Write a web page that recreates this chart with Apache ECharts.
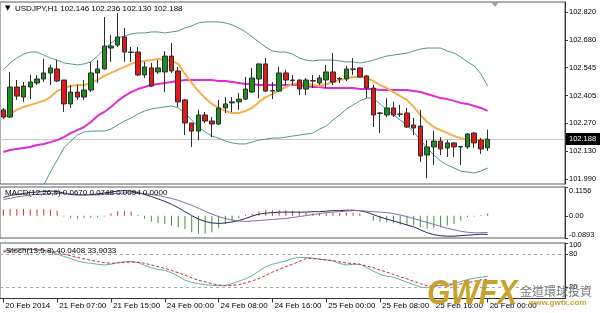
<!DOCTYPE html>
<html><head><meta charset="utf-8">
<script src="https://cdn.jsdelivr.net/npm/echarts@6/dist/echarts.min.js"></script>
<style>html,body{margin:0;padding:0;background:#fff}#c{width:600px;height:313px}</style>
</head><body><div id="c"></div>
<script>
const categories = ['20 Feb 23:00',
'21 Feb 00:00','21 Feb 01:00','21 Feb 02:00','21 Feb 03:00','21 Feb 04:00','21 Feb 05:00','21 Feb 06:00','21 Feb 07:00','21 Feb 08:00','21 Feb 09:00','21 Feb 10:00','21 Feb 11:00','21 Feb 12:00','21 Feb 13:00','21 Feb 14:00','21 Feb 15:00','21 Feb 16:00','21 Feb 17:00','21 Feb 18:00','21 Feb 19:00','21 Feb 20:00','21 Feb 21:00','21 Feb 22:00',
'24 Feb 00:00','24 Feb 01:00','24 Feb 02:00','24 Feb 03:00','24 Feb 04:00','24 Feb 05:00','24 Feb 06:00','24 Feb 07:00','24 Feb 08:00','24 Feb 09:00','24 Feb 10:00','24 Feb 11:00','24 Feb 12:00','24 Feb 13:00','24 Feb 14:00','24 Feb 15:00','24 Feb 16:00','24 Feb 17:00','24 Feb 18:00','24 Feb 19:00','24 Feb 20:00','24 Feb 21:00','24 Feb 22:00','24 Feb 23:00',
'25 Feb 00:00','25 Feb 01:00','25 Feb 02:00','25 Feb 03:00','25 Feb 04:00','25 Feb 05:00','25 Feb 06:00','25 Feb 07:00','25 Feb 08:00','25 Feb 09:00','25 Feb 10:00','25 Feb 11:00','25 Feb 12:00','25 Feb 13:00','25 Feb 14:00','25 Feb 15:00','25 Feb 16:00','25 Feb 17:00','25 Feb 18:00','25 Feb 19:00','25 Feb 20:00','25 Feb 21:00','25 Feb 22:00','25 Feb 23:00',
'26 Feb 00:00'];
// empty slots to the right (chart shift)
const futureSlots = ['26 Feb 01:00','26 Feb 02:00','26 Feb 03:00','26 Feb 04:00','26 Feb 05:00','26 Feb 06:00','26 Feb 07:00','26 Feb 08:00','26 Feb 09:00','26 Feb 10:00','26 Feb 11:00'];
const tickIndex = [0,8,16,24,32,40,48,56,64,72];
const tickLabels = ['20 Feb 2014','21 Feb 07:00','21 Feb 15:00','24 Feb 00:00','24 Feb 08:00','24 Feb 16:00','25 Feb 00:00','25 Feb 08:00','25 Feb 16:00','26 Feb 00:00'];

const opens = [102.334,102.299,102.448,102.398,102.448,102.468,102.488,102.518,102.538,102.483,
102.364,102.423,102.398,102.433,102.518,102.538,102.642,102.657,102.697,102.622,
102.622,102.508,102.543,102.523,102.523,102.602,102.528,102.384,102.269,102.229,
102.309,102.279,102.264,102.344,102.369,102.374,102.388,102.423,102.488,102.563,
102.428,102.428,102.518,102.483,102.483,102.438,102.478,102.468,102.483,102.523,
102.488,102.488,102.538,102.543,102.503,102.443,102.319,102.309,102.344,102.314,
102.319,102.259,102.254,102.110,102.150,102.179,102.145,102.170,102.150,102.150,
102.219,102.184,102.146];
const closes = [102.299,102.448,102.403,102.453,102.473,102.488,102.518,102.543,102.478,102.364,
102.423,102.398,102.433,102.518,102.538,102.652,102.652,102.697,102.622,102.620,
102.508,102.548,102.453,102.543,102.602,102.528,102.374,102.269,102.229,102.309,
102.279,102.264,102.344,102.364,102.374,102.388,102.438,102.493,102.563,102.428,
102.430,102.518,102.483,102.480,102.438,102.483,102.480,102.493,102.523,102.473,
102.490,102.538,102.536,102.498,102.443,102.309,102.317,102.344,102.309,102.312,
102.249,102.244,102.105,102.150,102.179,102.140,102.170,102.150,102.152,102.214,
102.170,102.140,102.188];
const highs = [102.344,102.523,102.483,102.473,102.508,102.508,102.587,102.558,102.582,102.483,
102.458,102.458,102.483,102.573,102.582,102.796,102.707,102.816,102.742,102.647,
102.647,102.573,102.568,102.582,102.627,102.667,102.548,102.388,102.269,102.334,
102.324,102.299,102.384,102.398,102.398,102.418,102.498,102.543,102.565,102.592,
102.473,102.548,102.533,102.508,102.485,102.493,102.508,102.508,102.558,102.617,
102.498,102.553,102.592,102.545,102.508,102.458,102.324,102.393,102.374,102.359,
102.344,102.294,102.334,102.184,102.229,102.199,102.184,102.174,102.155,102.219,
102.224,102.194,102.236];
const lows = [102.289,102.294,102.384,102.374,102.388,102.458,102.473,102.458,102.473,102.324,
102.344,102.384,102.384,102.423,102.468,102.533,102.573,102.647,102.573,102.573,
102.503,102.493,102.448,102.513,102.423,102.518,102.349,102.209,102.150,102.184,
102.269,102.199,102.259,102.319,102.324,102.334,102.384,102.418,102.393,102.423,
102.388,102.423,102.458,102.458,102.408,102.408,102.443,102.458,102.443,102.458,
102.468,102.478,102.508,102.496,102.393,102.249,102.219,102.299,102.299,102.299,
102.244,102.209,102.075,101.995,102.060,102.110,102.100,102.100,102.060,102.140,
102.145,102.115,102.130];

const bbUpper = [102.533,102.568,102.592,102.612,102.622,102.622,102.607,102.592,102.582,102.568,
102.563,102.558,102.563,102.573,102.602,102.637,102.667,102.692,102.702,102.712,
102.717,102.717,102.722,102.722,102.717,102.722,102.727,102.742,102.752,102.767,
102.772,102.772,102.772,102.767,102.757,102.742,102.722,102.697,102.672,102.647,
102.627,102.622,102.622,102.612,102.592,102.582,102.578,102.582,102.582,102.582,
102.578,102.573,102.573,102.568,102.573,102.582,102.592,102.602,102.607,102.612,
102.617,102.627,102.637,102.642,102.642,102.642,102.627,102.617,102.597,102.573,
102.553,102.513,102.453];
const bbLower = [101.662,101.712,101.757,101.801,101.846,101.896,101.961,102.025,102.085,102.145,
102.179,102.209,102.224,102.229,102.229,102.229,102.239,102.259,102.279,102.294,
102.314,102.329,102.339,102.344,102.349,102.354,102.344,102.319,102.284,102.249,
102.224,102.204,102.194,102.179,102.170,102.165,102.165,102.174,102.184,102.189,
102.194,102.194,102.199,102.204,102.209,102.214,102.219,102.239,102.254,102.284,
102.309,102.339,102.359,102.379,102.393,102.393,102.364,102.334,102.309,102.284,
102.259,102.224,102.184,102.145,102.110,102.080,102.060,102.045,102.030,102.025,
102.020,102.030,102.045];
const maFast = [102.294,102.314,102.334,102.349,102.359,102.369,102.379,102.398,102.428,102.443,
102.453,102.458,102.458,102.468,102.483,102.503,102.518,102.533,102.548,102.563,
102.573,102.578,102.582,102.587,102.582,102.578,102.563,102.513,102.468,102.428,
102.393,102.364,102.344,102.329,102.319,102.319,102.329,102.344,102.374,102.398,
102.413,102.433,102.448,102.463,102.468,102.463,102.458,102.453,102.463,102.473,
102.483,102.493,102.498,102.498,102.493,102.478,102.458,102.443,102.423,102.403,
102.384,102.349,102.309,102.274,102.249,102.234,102.219,102.204,102.194,102.184,
102.184,102.184,102.189];
const maSlow = [102.125,102.135,102.140,102.145,102.150,102.160,102.165,102.174,102.184,102.199,
102.219,102.234,102.249,102.274,102.304,102.324,102.349,102.379,102.403,102.423,
102.438,102.448,102.458,102.463,102.468,102.473,102.478,102.483,102.483,102.483,
102.483,102.483,102.478,102.478,102.473,102.468,102.463,102.463,102.458,102.458,
102.458,102.458,102.458,102.458,102.458,102.453,102.448,102.448,102.443,102.443,
102.443,102.443,102.443,102.438,102.438,102.438,102.433,102.433,102.433,102.433,
102.433,102.428,102.423,102.413,102.403,102.393,102.388,102.379,102.369,102.364,
102.354,102.344,102.329];

const macdHist = [0.025,0.027,0.026,0.027,0.026,0.025,0.026,0.024,0.020,-0.003,
-0.010,-0.012,-0.010,-0.008,-0.006,-0.003,0.010,0.018,0.020,0.016,
0.003,-0.012,-0.024,-0.029,-0.033,-0.039,-0.046,-0.053,-0.066,-0.072,
-0.072,-0.066,-0.050,-0.033,-0.020,-0.010,0.004,0.008,0.018,0.022,
0.022,0.022,0.022,0.020,0.018,0.012,0.010,0.010,0.012,0.012,
0.010,0.012,0.012,0.008,0.000,-0.020,-0.024,-0.026,-0.029,-0.036,
-0.039,-0.039,-0.046,-0.052,-0.050,-0.046,-0.039,-0.033,-0.020,-0.005,
-0.003,0.003,0.0094];
const macdLine1 = [0.0737,0.0816,0.0855,0.0894,0.0934,0.0953,0.0973,0.0993,0.0973,0.0914,
0.0855,0.0835,0.0835,0.0855,0.0875,0.0914,0.0953,0.0993,0.1013,0.0993,
0.0934,0.0855,0.0776,0.0678,0.0579,0.0461,0.0323,0.0165,0.0008,-0.0130,
-0.0229,-0.0288,-0.0307,-0.0288,-0.0248,-0.0189,-0.0110,-0.0012,0.0067,0.0106,
0.0126,0.0146,0.0146,0.0146,0.0146,0.0146,0.0165,0.0165,0.0185,0.0205,
0.0205,0.0225,0.0225,0.0205,0.0146,0.0047,-0.0051,-0.0130,-0.0209,-0.0288,
-0.0366,-0.0445,-0.0563,-0.0682,-0.0760,-0.0800,-0.0820,-0.0820,-0.0800,-0.0780,
-0.0760,-0.0741,-0.0748];
const macdLine2 = [0.0658,0.0697,0.0756,0.0796,0.0835,0.0855,0.0875,0.0894,0.0894,0.0894,
0.0875,0.0855,0.0835,0.0835,0.0835,0.0855,0.0875,0.0894,0.0914,0.0914,
0.0914,0.0894,0.0855,0.0816,0.0756,0.0697,0.0619,0.0520,0.0422,0.0303,
0.0185,0.0067,-0.0032,-0.0110,-0.0169,-0.0209,-0.0229,-0.0209,-0.0189,-0.0169,
-0.0150,-0.0130,-0.0110,-0.0071,-0.0032,0.0008,0.0047,0.0087,0.0126,0.0146,
0.0165,0.0185,0.0205,0.0205,0.0185,0.0165,0.0146,0.0126,0.0087,0.0028,
-0.0032,-0.0110,-0.0189,-0.0268,-0.0347,-0.0426,-0.0504,-0.0563,-0.0623,-0.0662,
-0.0682,-0.0682,-0.0670];

const stochK = [86,88,90,90,89,87,86,85,80,75.8,
72,67.7,64.8,63.5,61.7,60.4,61.7,64.8,65.9,66.6,
64.8,59.8,55.6,52.5,50.6,46.4,40.2,32.8,29.2,26.8,
25,23.7,23.1,23.7,26.8,31,35.4,41.5,49.4,57.4,
61.7,64.8,67.7,72,74,74,72.7,70.8,69.5,67.7,
62.9,60.4,61.7,61.7,55.6,49.4,43.3,40.2,38.4,34.1,
29.2,25,20.7,19.4,21.8,23.7,25.5,27.3,30.5,34.1,
36.5,38.4,40.0408];
const stochD = [84,85,87,88,88,88,87,86,83,80,
76.9,73.9,71.4,69,66.6,64.8,63.5,64,65.3,65.9,
65.3,63.5,60.4,57.4,54.3,50.6,46.4,42,37.2,32.8,
29.9,26.8,24.4,23.1,23.7,25,28.1,31.7,36,41.5,
47.5,52.5,57.4,61.7,67,72,72,70.8,69.5,68.4,
65.9,64,62.9,61.7,58.5,55.6,51.2,47.5,43.3,39.1,
35.4,31,26.8,23.1,22.6,23.7,23.7,25,26.2,28.6,
31,33.6,33.9033];

const priceTicks = [101.990,102.130,102.270,102.405,102.545,102.680,102.820];
const priceRange = [101.9656,102.871];
const lastPrice = 102.188;
const macdTicks = [-0.0893,0,0.1156];
const stochTicks = [20,80,100];
const stochLevels = [20,80];

const titleMain = 'USDJPY,H1 102.146 102.236 102.130 102.188';
const titleMacd = 'MACD(12,26,9) 0.0670 0.0748 0.0094 0.0000';
const titleStoch = 'Stoch(13,5,8) 40.0408 33.9033';

const FONT = 'Liberation Sans';
const xCats = categories.concat(futureSlots);
const candleData = opens.map((o,i)=>[o, closes[i], lows[i], highs[i]]);

const chart = echarts.init(document.getElementById('c'), null, {renderer:'canvas'});

function hiddenX(gi){
  return {type:'category', gridIndex:gi, data:xCats, boundaryGap:true,
    axisLine:{show:false}, axisTick:{show:false}, axisLabel:{show:false}, splitLine:{show:false}};
}
const tickFn = (idx)=> tickIndex.indexOf(idx) >= 0;
const gridBase = {left:0, right:35, show:true, borderColor:'#5a5a5a', borderWidth:1, backgroundColor:'#fff'};
const lblBase = {fontSize:7.5, color:'#000', fontFamily:FONT, showMinLabel:true, showMaxLabel:true, hideOverlap:false};

chart.setOption({
  animation:false,
  backgroundColor:'#fff',
  textStyle:{fontFamily:FONT},
  title:[
    {text:'▼', left:5, top:4, padding:0, textStyle:{fontSize:7, color:'#000', fontWeight:'normal', fontFamily:'DejaVu Sans', lineHeight:9}},
    {text:titleMain, left:15, top:4, padding:0, textStyle:{fontSize:8, color:'#000', fontWeight:'normal', fontFamily:FONT, lineHeight:10}},
    {text:titleMacd, left:5, top:188, padding:0, textStyle:{fontSize:8, color:'#000', fontWeight:'normal', fontFamily:FONT, lineHeight:10}},
    {text:titleStoch, left:6, top:246, padding:0, textStyle:{fontSize:8, color:'#000', fontWeight:'normal', fontFamily:FONT, lineHeight:10}}
  ],
  grid:[
    Object.assign({top:2, height:182}, gridBase),
    Object.assign({top:187, height:51}, gridBase),
    Object.assign({top:243, height:55.5}, gridBase)
  ],
  xAxis:[
    hiddenX(0), hiddenX(1),
    {type:'category', gridIndex:2, data:xCats, boundaryGap:true,
      axisLine:{show:true, lineStyle:{color:'#333'}},
      axisTick:{show:true, alignWithLabel:true, interval:tickFn, length:4, lineStyle:{color:'#333'}},
      axisLabel:{show:true, interval:tickFn, align:'left', margin:3, padding:[0,0,0,2],
        fontSize:8, color:'#000', fontFamily:FONT,
        formatter:(v, idx)=>{ const k = tickIndex.indexOf(idx); return k>=0 ? tickLabels[k] : ''; }},
      splitLine:{show:false}}
  ],
  yAxis:[
    {type:'value', gridIndex:0, position:'right', min:priceRange[0], max:priceRange[1],
      axisLine:{show:true, lineStyle:{color:'#333'}},
      axisTick:{show:true, length:3, customValues:priceTicks, lineStyle:{color:'#333'}},
      axisLabel:Object.assign({customValues:priceTicks, margin:4, formatter:v=>Number(v).toFixed(3)}, lblBase),
      splitLine:{show:false}},
    {type:'value', gridIndex:1, position:'right', min:macdTicks[0], max:macdTicks[2],
      axisLine:{show:true, lineStyle:{color:'#333'}},
      axisTick:{show:true, length:3, customValues:macdTicks, lineStyle:{color:'#333'}},
      axisLabel:Object.assign({customValues:macdTicks, margin:4,
        formatter:v=> Number(v) > 0.1 ? '{t|0.1156}' : (Number(v) < -0.08 ? '{b|-0.0893}' : '0.00'),
        rich:{t:{padding:[8,0,0,0], fontSize:7.5, color:'#000', fontFamily:FONT},
              b:{padding:[0,0,6,0], fontSize:7.5, color:'#000', fontFamily:FONT}}}, lblBase),
      splitLine:{show:false}},
    {type:'value', gridIndex:2, position:'right', min:0, max:100,
      axisLine:{show:true, lineStyle:{color:'#333'}},
      axisTick:{show:true, length:3, customValues:stochTicks, lineStyle:{color:'#333'}},
      axisLabel:Object.assign({customValues:stochTicks, margin:4,
        formatter:v=> Number(v) >= 100 ? '{t|100}' : String(v),
        rich:{t:{padding:[3,0,0,0], fontSize:7.5, color:'#000', fontFamily:FONT}}}, lblBase),
      splitLine:{show:false}},
  ],
  series:[
    {type:'line', name:'BB upper', xAxisIndex:0, yAxisIndex:0, data:bbUpper, symbol:'none', z:2,
      lineStyle:{color:'#4f9595', width:1}},
    {type:'line', name:'BB lower', xAxisIndex:0, yAxisIndex:0, data:bbLower, symbol:'none', z:2,
      lineStyle:{color:'#4f9595', width:1}},
    {type:'line', name:'MA slow', xAxisIndex:0, yAxisIndex:0, data:maSlow, symbol:'none', z:2,
      lineStyle:{color:'#e02ad8', width:2}},
    {type:'line', name:'MA fast', xAxisIndex:0, yAxisIndex:0, data:maFast, symbol:'none', z:2,
      lineStyle:{color:'#f2b048', width:2}},
    {type:'candlestick', name:'USDJPY', xAxisIndex:0, yAxisIndex:0, data:candleData, barWidth:5, z:3,
      itemStyle:{color:'#1f8c1f', color0:'#e01a1a', borderColor:'#2c2c2c', borderColor0:'#2c2c2c', borderWidth:1},
      markLine:{silent:true, symbol:['none','none'], z:1,
        lineStyle:{color:'#c8c8c8', width:1, type:'solid'},
        label:{show:true, position:'end', distance:1, formatter:()=>lastPrice.toFixed(3),
          backgroundColor:'#000', color:'#fff', fontSize:7.5, fontFamily:FONT, padding:[2,4,2,3]},
        data:[{yAxis:lastPrice}]}},
    {type:'bar', name:'MACD hist', xAxisIndex:1, yAxisIndex:1, data:macdHist, barWidth:1,
      itemStyle:{color:p=> p.value >= 0 ? '#c23a3a' : '#3b963b'}},
    {type:'line', name:'MACD 1', xAxisIndex:1, yAxisIndex:1, data:macdLine1, symbol:'none',
      lineStyle:{color:'#28285a', width:1}},
    {type:'line', name:'MACD 2', xAxisIndex:1, yAxisIndex:1, data:macdLine2, symbol:'none',
      lineStyle:{color:'#8a6aaa', width:1}},
    {type:'line', name:'%K', xAxisIndex:2, yAxisIndex:2, data:stochK, symbol:'none',
      lineStyle:{color:'#5ab4a4', width:1},
      markLine:{silent:true, symbol:['none','none'], label:{show:false},
        lineStyle:{color:'#a8a8a8', width:1, type:[3,3]},
        data:stochLevels.map(v=>({yAxis:v}))}},
    {type:'line', name:'%D', xAxisIndex:2, yAxisIndex:2, data:stochD, symbol:'none',
      lineStyle:{color:'#d02828', width:1, type:[3,2]}}
  ],
  graphic:[
    {type:'polygon', shape:{points:[[491,2],[499,2],[495,7]]}, style:{fill:'#a0a0a0'}, z:50},
    {type:'text', x:427, y:294, scaleX:0.86, z:100,
      style:{text:'GWFX', font:'italic bold 35px "Liberation Sans"', fill:'#c9a22e', verticalAlign:'middle', align:'left'}},
    {type:'text', x:520, y:291, z:100,
      style:{text:'金道環球投資', font:'12px "Noto Sans CJK TC"', fill:'#7a7a7a', verticalAlign:'middle', align:'left'}},
    {type:'text', x:529, y:303, z:100,
      style:{text:'www.gwfx.com', font:'bold 8px "Liberation Sans"', fill:'#c9a22e', verticalAlign:'middle', align:'left'}}
  ]
});
</script></body></html>
